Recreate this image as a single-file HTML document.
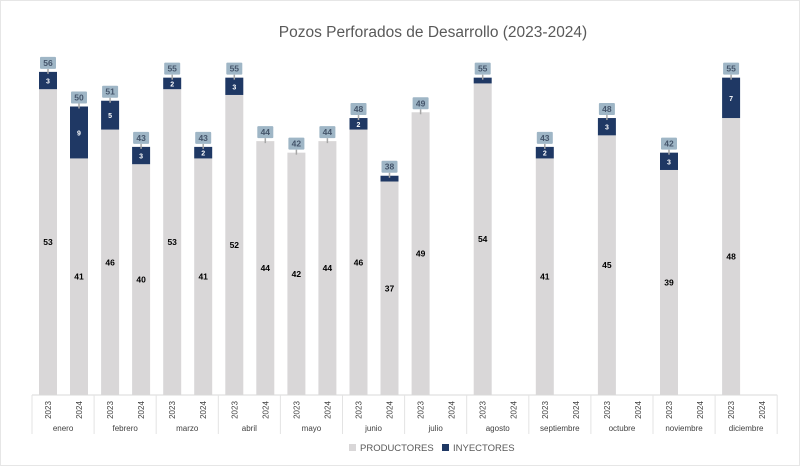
<!DOCTYPE html>
<html><head><meta charset="utf-8"><style>
html,body{margin:0;padding:0;background:#fff;}
svg text{font-family:"Liberation Sans",sans-serif;}
</style></head><body>
<svg id="c" width="800" height="466" viewBox="0 0 800 466">
<rect x="0.5" y="0.5" width="799" height="465" fill="#fff" stroke="#e6e6e6"/>
<text x="433" y="37" text-anchor="middle" font-size="15.5" fill="#595959">Pozos Perforados de Desarrollo (2023-2024)</text>
<g id="bars"></g>
<g id="axis"></g>
<g>
<rect x="349" y="444" width="7" height="7" fill="#d9d7d8"/>
<text x="360" y="451" font-size="9.5" fill="#595959">PRODUCTORES</text>
<rect x="442" y="444" width="7" height="7" fill="#1f3864"/>
<text x="453" y="451" font-size="9.5" fill="#595959">INYECTORES</text>
</g>
</svg>
<script>
const months = ["enero","febrero","marzo","abril","mayo","junio","julio","agosto","septiembre","octubre","noviembre","diciembre"];
const years = ["2023","2024"];
const prod2023 = [53,46,53,52,42,46,49,54,41,45,39,48];
const iny2023 = [3,5,2,3,0,2,0,1,2,3,3,7];
const prod2024 = [41,40,41,44,44,37,null,null,null,null,null,null];
const iny2024 = [9,3,2,0,0,1,null,null,null,null,null,null];

const NS="http://www.w3.org/2000/svg";
const x0=32, groupW=62.1, base=395, pxPerUnit=5.77, barW=18;
function xCenter(m,yi){return x0+m*groupW+(yi===0?16:47);}
function yScale(v){return base-v*pxPerUnit;}
function mk(tag,attrs,parent){const e=document.createElementNS(NS,tag);for(const k in attrs)e.setAttribute(k,attrs[k]);parent.appendChild(e);return e;}
const bars=document.getElementById('bars'), axis=document.getElementById('axis');
const series=[[prod2023,iny2023],[prod2024,iny2024]];
for(let m=0;m<months.length;m++){
  for(let yi=0;yi<2;yi++){
    const p=series[yi][0][m], n=series[yi][1][m];
    if(p===null)continue;
    const cx=xCenter(m,yi);
    const r1=mk('rect',{x:cx-barW/2,y:yScale(p),width:barW,height:base-yScale(p),fill:'#d9d7d8'},bars);
    
    
    const t1=mk('text',{x:cx,y:yScale(p/2)+3,'text-anchor':'middle','font-size':'8.5','font-weight':'bold',fill:'#000'},bars);
    t1.textContent=p;
    
    
    if(n>0){
      const r2=mk('rect',{x:cx-barW/2,y:yScale(p+n),width:barW,height:n*pxPerUnit,fill:'#1f3864'},bars);
      
      
      if(n>=2){
        const t2=mk('text',{x:cx,y:yScale(p+n/2)+3,'text-anchor':'middle','font-size':'7','font-weight':'bold',fill:'#fff'},bars);
        t2.textContent=n;
        
        
      }
    }
    const tot=p+n, ty=yScale(tot);
    mk('line',{x1:cx,y1:ty-3,x2:cx,y2:ty+2,stroke:'#a6a6a6','stroke-width':1.5},bars);
    const bx=mk('rect',{x:cx-8,y:ty-15,width:16,height:12,fill:'#9fb6c6',rx:1},bars);
    
    
    const tt=mk('text',{x:cx,y:ty-6,'text-anchor':'middle','font-size':'8.5','font-weight':'bold',fill:'#44546a'},bars);
    tt.textContent=tot;
    
    
  }
}
const ax=mk('line',{x1:x0,y1:base,x2:x0+12*groupW,y2:base,stroke:'#d9d9d9','stroke-width':1},axis);


for(let m=0;m<=months.length;m++){
  const x=x0+m*groupW;
  mk('line',{x1:x,y1:base,x2:x,y2:434,stroke:'#e3e3e3','stroke-width':1},axis);
}
for(let m=0;m<months.length;m++){
  for(let yi=0;yi<2;yi++){
    const cx=xCenter(m,yi);
    const t=mk('text',{x:0,y:0,'text-anchor':'middle','font-size':'8',fill:'#404040',transform:`translate(${cx+3},410) rotate(-90)`},axis);
    t.textContent=years[yi];
    
    
  }
  const mt=mk('text',{x:x0+m*groupW+groupW/2,y:431,'text-anchor':'middle','font-size':'8',fill:'#404040'},axis);
  mt.textContent=months[m];
  
  
}
</script>
</body></html>
